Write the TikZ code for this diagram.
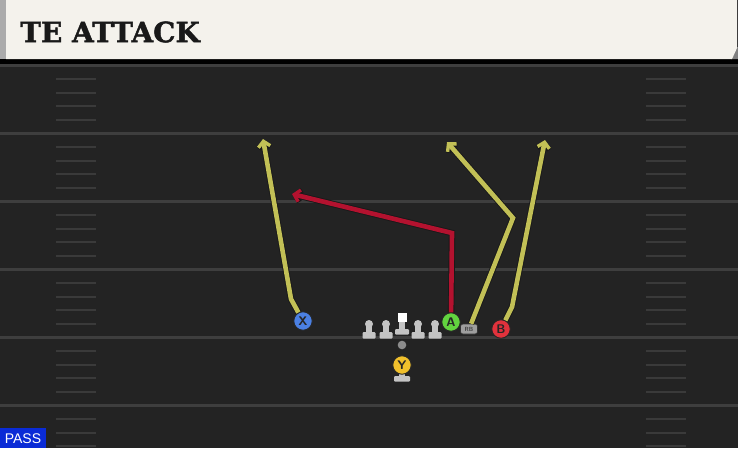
\documentclass[tikz,border=0pt]{standalone}
\usepackage{fontspec}
\setmainfont{Liberation Sans}
\newfontfamily\titlefont[FakeBold=1.6]{DejaVu Serif Bold}
\usetikzlibrary{arrows.meta}

\definecolor{fieldbg}{HTML}{232323}
\definecolor{yardgray}{HTML}{3E3E3E}
\definecolor{hashgray}{HTML}{3A3A3A}
\definecolor{headerbg}{HTML}{F4F2EC}
\definecolor{routeyellow}{HTML}{C2C056}
\definecolor{routered}{HTML}{B3122F}
\definecolor{xblue}{HTML}{4B80E3}
\definecolor{agreen}{HTML}{62D33F}
\definecolor{bred}{HTML}{E1323C}
\definecolor{yyellow}{HTML}{F0C02C}
\definecolor{linegray}{HTML}{C4C4C4}
\definecolor{passblue}{HTML}{0A2BD6}

\begin{document}
\begin{tikzpicture}[x=1pt,y=-1pt,
  player/.style={circle,draw=black!85,line width=0.9pt,minimum size=18.5pt,inner sep=0pt,
    font=\sffamily\bfseries\fontsize{12.5}{12.5}\selectfont,text=black!85},
  back node/.style={rounded corners=2.5pt,fill=black!38,draw=black!80,line width=0.6pt,
    minimum width=17pt,minimum height=10pt,inner sep=0pt,font=\sffamily\bfseries\fontsize{6}{6}\selectfont,text=black!75},
  route/.style={-{Straight Barb[length=5.5pt,width=12pt,line width=3.4pt]},line width=4.6pt,draw=#1,
    preaction={draw=black!90,line width=6.4pt,-{Straight Barb[length=5.5pt,width=12pt,line width=5.2pt]}}},
  yard line/.style={draw=yardgray,line width=2.5pt},
  hash mark/.style={draw=hashgray,line width=2.2pt},
  lineman/.style={fill=linegray}]
  \useasboundingbox (0,0) rectangle (738,448);
  \clip (0,0) rectangle (738,448);

  % field
  \fill[fieldbg] (0,0) rectangle (738,448);
  \foreach \yl in {65.5,133.5,201.5,269.5,337.5,405.5} {
    \draw[yard line] (0,\yl) -- (738,\yl);
    \foreach \k in {1,...,4} {
      \draw[hash mark] (56,{\yl+13.6*\k}) -- (96,{\yl+13.6*\k});
      \draw[hash mark] (646,{\yl+13.6*\k}) -- (686,{\yl+13.6*\k});
    }
  }

  % header
  \fill[black] (0,58) rectangle (738,64);
  \fill[black!50] (731,59) -- (737,47) -- (738,47) -- (738,59) -- cycle;
  \fill[headerbg] (6,0) -- (737,0) -- (737,48) -- (732,59) -- (6,59) -- cycle;
  \fill[black!33] (0,0) rectangle (6,59);
  \node[anchor=west,inner sep=0pt,text=black!90,font=\titlefont\fontsize{28}{28}\selectfont]
    (title) at (20,32) {TE ATTACK};

  % offensive line
  \foreach \lx in {369,386,418,435} {
    \fill[lineman] (\lx,324) circle (4);
    \fill[lineman] ({\lx-2.6},324) rectangle ({\lx+2.6},333);
    \fill[lineman,rounded corners=1pt] ({\lx-6.5},332) rectangle ({\lx+6.5},338.5);
  }
  \fill[white] (397.5,313) rectangle (406.5,322);
  \fill[lineman] (399.4,322) rectangle (404.6,330);
  \fill[lineman,rounded corners=1pt] (395,329) rectangle (409,334.5);
  \fill[black!45] (402,345) circle (4.3);
  \fill[lineman] (399.4,370) rectangle (404.6,378);
  \fill[lineman,rounded corners=1pt] (394,376) rectangle (410,381.5);

  % players
  \node[player,fill=xblue] (X) at (303,321) {X};
  \node[player,fill=agreen] (A) at (451,322) {A};
  \node[back node] (RB) at (469,329) {RB};
  \node[player,fill=bred] (B) at (501,329) {B};
  \node[player,fill=yyellow] (Y) at (402,365) {Y};

  % routes
  \coordinate (xbend) at (291,299);
  \coordinate (xend) at (263,139);
  \coordinate (acorner) at (452,233);
  \coordinate (aend) at (292,194);
  \coordinate (rbcorner) at (513,218);
  \coordinate (rbend) at (447,142);
  \coordinate (bbend) at (512,307);
  \coordinate (bend) at (545,140);
  \draw[route=routeyellow] (X) -- (xbend) -- (xend);
  \draw[route=routered] (A) -- (acorner) -- (aend);
  \draw[route=routeyellow] (RB) -- (rbcorner) -- (rbend);
  \draw[route=routeyellow] (B) -- (bbend) -- (bend);

  % play type
  \fill[passblue] (0,428) rectangle (46,448);
  \node[text=white,font=\fontsize{14}{14}\selectfont,inner sep=0pt] (pass) at (23,438.5) {PASS};
\end{tikzpicture}
\end{document}
